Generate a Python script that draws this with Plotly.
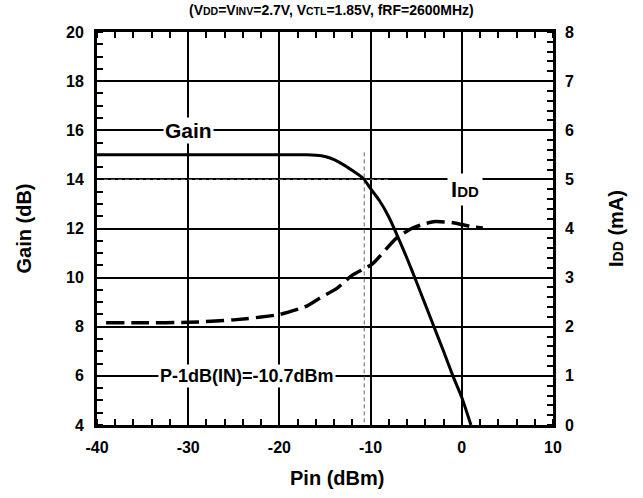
import plotly.graph_objects as go

# Data
pin_gain = [-40, -30, -20, -17, -16, -15, -14, -13, -12, -11, -10.7, -10, -9, -8, -7, -6, -5, -4, -3, -2, -1, 0, 1.0]
gain_db = [15.0, 15.0, 15.0, 15.0, 14.98, 14.93, 14.8, 14.6, 14.36, 14.1, 14.0, 13.62, 13.12, 12.47, 11.65, 10.78, 9.85, 8.9, 7.95, 7.0, 6.02, 5.12, 4.0]

pin_idd = [-39, -35, -30, -25, -20, -17, -15.6, -13.7, -12, -9.8, -7.2, -5.5, -4, -2.9, -1.1, 0, 1, 2.3]
idd_ma = [2.08, 2.08, 2.09, 2.14, 2.25, 2.42, 2.58, 2.78, 3.05, 3.28, 3.8, 4.0, 4.1, 4.14, 4.12, 4.08, 4.04, 4.01]

p1db_in = -10.7
gain_1db = 14.0

x_ticks = [-40, -30, -20, -10, 0, 10]
x_ticktext = ["-40", "-30", "-20", "-10", "0", "10"]
gain_ticks = [4, 6, 8, 10, 12, 14, 16, 18, 20]
idd_ticks = [0, 1, 2, 3, 4, 5, 6, 7, 8]

FONT = "Liberation Sans, Arial, sans-serif"

fig = go.Figure()

# reference dashed guide lines
fig.add_trace(go.Scatter(x=[-40, -8], y=[gain_1db, gain_1db], mode="lines",
                         line=dict(color="#666666", width=1, dash="4px,3px"),
                         showlegend=False, hoverinfo="skip"))
fig.add_trace(go.Scatter(x=[p1db_in, p1db_in], y=[15.1, 4], mode="lines",
                         line=dict(color="#666666", width=1, dash="4px,3px"),
                         showlegend=False, hoverinfo="skip"))

fig.add_trace(go.Scatter(x=pin_gain, y=gain_db, mode="lines",
                         line=dict(color="black", width=3, shape="spline", smoothing=0.6),
                         showlegend=False))
fig.add_trace(go.Scatter(x=pin_idd, y=idd_ma, mode="lines", yaxis="y2",
                         line=dict(color="black", width=3.5, dash="18px,7px", shape="spline", smoothing=0.6),
                         showlegend=False))

tickfont = dict(family=FONT, size=16, color="black", weight="bold")
titlefont = dict(family=FONT, size=20, color="black", weight="bold")
minor_common = dict(ticks="inside", ticklen=6, tickwidth=2, tickcolor="black", showgrid=False)

fig.update_layout(
    width=643, height=498,
    margin=dict(l=97, r=90, t=32, b=73),
    paper_bgcolor="white", plot_bgcolor="white",
    font=dict(family=FONT, color="black"),
    xaxis=dict(range=[-40, 10], tickvals=x_ticks, ticktext=x_ticktext, ticks="", showgrid=True,
               gridcolor="black", gridwidth=2, zeroline=False,
               showline=True, linecolor="black", linewidth=3, mirror=True,
               tickfont=tickfont, ticklabelstandoff=6,
               minor=dict(dtick=2, **minor_common)),
    xaxis2=dict(range=[-40, 10], overlaying="x", side="top", showticklabels=False,
                ticks="", showgrid=False, zeroline=False, tickvals=x_ticks,
                minor=dict(dtick=2, **minor_common)),
    yaxis=dict(range=[4, 20], tickvals=gain_ticks, ticks="", showgrid=True,
               gridcolor="black", gridwidth=2, zeroline=False,
               showline=True, linecolor="black", linewidth=3, mirror=True,
               tickfont=tickfont, ticklabelstandoff=7,
               minor=dict(dtick=0.5, **minor_common),
               title=dict(text="Gain (dB)", font=titlefont, standoff=30)),
    yaxis2=dict(range=[0, 8], tickvals=idd_ticks, overlaying="y", side="right",
                ticks="", showgrid=False, zeroline=False,
                tickfont=tickfont, ticklabelstandoff=11,
                minor=dict(dtick=0.2, **minor_common),
                title=dict(text="I<span style='font-size:14px'>DD</span> (mA)", font=titlefont, standoff=35)),
)

# dummy trace to activate top axis
fig.add_trace(go.Scatter(x=[-40], y=[4], xaxis="x2", mode="markers", marker=dict(opacity=0),
                         showlegend=False, hoverinfo="skip"))

fig.add_annotation(
    text="(V<span style='font-size:10.5px'>DD</span>=V<span style='font-size:10.5px'>INV</span>=2.7V, "
         "V<span style='font-size:10.5px'>CTL</span>=1.85V, fRF=2600MHz)",
    xref="paper", yref="paper", x=0.515, y=1.0, yanchor="middle", yshift=22, showarrow=False,
    font=dict(family=FONT, size=14, color="black", weight="bold"))

fig.add_annotation(text="Pin (dBm)", xref="paper", yref="paper", x=0.526, y=0, yanchor="middle",
                   yshift=-53, showarrow=False, font=titlefont)

fig.add_annotation(text="Gain", x=-30, y=16, xref="x", yref="y", showarrow=False,
                   bgcolor="white", borderpad=1,
                   font=dict(family=FONT, size=21, color="black", weight="bold"))
fig.add_annotation(text="I<span style='font-size:15px'>DD</span>", x=0.3, y=4.8, xref="x", yref="y2",
                   showarrow=False, bgcolor="white", borderpad=3,
                   font=dict(family=FONT, size=22, color="black", weight="bold"))
fig.add_annotation(text="P-1dB(IN)=-10.7dBm", x=-23.6, y=6, xref="x", yref="y", showarrow=False,
                   bgcolor="white", borderpad=1,
                   font=dict(family=FONT, size=18, color="black", weight="bold"))

fig.write_html("out.html")
